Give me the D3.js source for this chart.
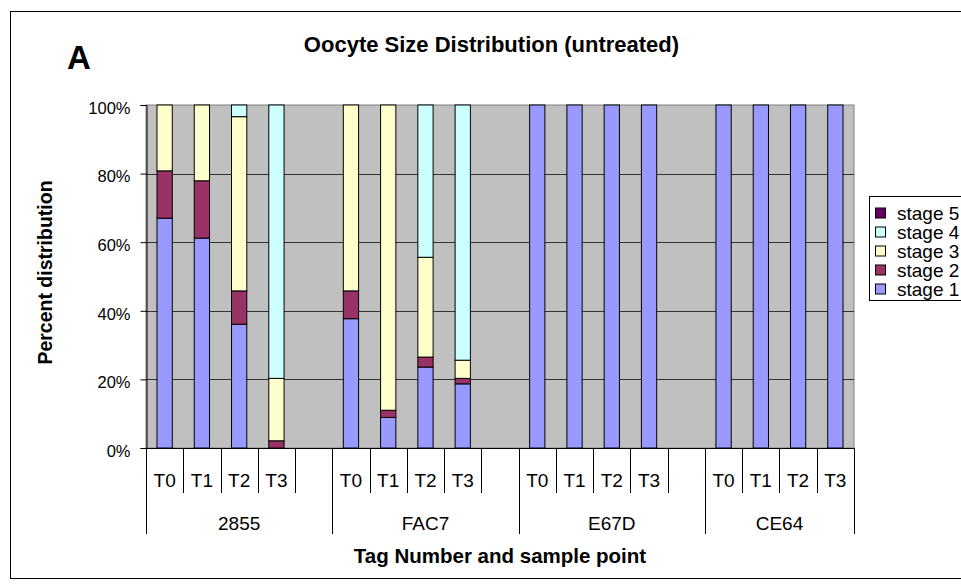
<!DOCTYPE html>
<html>
<head>
<meta charset="utf-8">
<script src="https://cdn.jsdelivr.net/npm/d3@7"></script>
<style>
  body { margin: 0; background: #fff; }
  svg { display: block; font-family: "Liberation Sans", Arial, sans-serif; }
</style>
</head>
<body>
<svg id="chart" width="961" height="585"></svg>
<script>
// data (percent of oocytes per stage)
const groups = ['2855', 'FAC7', 'E67D', 'CE64'];
const samples = ['T0', 'T1', 'T2', 'T3'];
const stages = ['stage 1', 'stage 2', 'stage 3', 'stage 4', 'stage 5'];
const stageColors = ['#9999FF', '#993366', '#FFFFCC', '#CCFFFF', '#660066'];

// one entry per group/sample, in order 2855 T0..T3, FAC7 T0..T3, E67D T0..T3, CE64 T0..T3
const stage1 = [67.0, 61.2, 36.1, 0, 37.7, 8.9, 23.6, 18.7, 100, 100, 100, 100, 100, 100, 100, 100];
const stage2 = [13.8, 16.7, 9.7, 2.1, 8.1, 2.1, 2.9, 1.6, 0, 0, 0, 0, 0, 0, 0, 0];
const stage3 = [19.2, 22.1, 50.8, 18.2, 54.2, 89.0, 29.1, 5.3, 0, 0, 0, 0, 0, 0, 0, 0];
const stage4 = [0, 0, 3.4, 79.7, 0, 0, 44.4, 74.4, 0, 0, 0, 0, 0, 0, 0, 0];
const stage5 = [0, 0, 0, 0, 0, 0, 0, 0, 0, 0, 0, 0, 0, 0, 0, 0];

const yTicks = [0, 0.2, 0.4, 0.6, 0.8, 1];

//#region Build rows (an empty slot follows each group except the last)
const series = [stage1, stage2, stage3, stage4, stage5];
const rows = [];
groups.forEach((g, gi) => {
    samples.forEach((s, si) => {
        const i = gi * samples.length + si;
        const row = { key: g + '|' + s, group: g, sample: s };
        stages.forEach((st, k) => row[st] = series[k][i] / 100);
        rows.push(row);
    });
    if (gi < groups.length - 1) {
        const row = { key: g + '|', group: g, sample: '' };
        stages.forEach(st => row[st] = 0);
        rows.push(row);
    }
});
//#endregion

const svg = d3.select('#chart');
const plot = { left: 146, right: 854, top: 105, bottom: 448 };

// chart area border
svg.append('rect')
    .attr('x', 10.5).attr('y', 11.5)
    .attr('width', 980).attr('height', 567)
    .attr('fill', '#fff')
    .attr('stroke', '#000');

const padInner = 0.59;
const x = d3.scaleBand()
    .domain(rows.map(d => d.key))
    .range([plot.left, plot.right])
    .paddingInner(padInner)
    .paddingOuter(padInner / 2);

const y = d3.scaleLinear()
    .domain([0, 1])
    .range([plot.bottom, plot.top]);

// plot background
svg.append('rect')
    .attr('x', plot.left).attr('y', plot.top)
    .attr('width', plot.right - plot.left)
    .attr('height', plot.bottom - plot.top)
    .attr('fill', '#C0C0C0')
    .attr('stroke', '#808080');

// gridlines
svg.append('g')
    .selectAll('line')
    .data(yTicks.filter(t => t > 0 && t < 1))
    .join('line')
    .attr('x1', plot.left).attr('x2', plot.right)
    .attr('y1', d => Math.round(y(d)) + 0.5)
    .attr('y2', d => Math.round(y(d)) + 0.5)
    .attr('stroke', '#333');

// stacked bars
const stacked = d3.stack().keys(stages)(rows);
svg.append('g')
    .selectAll('g')
    .data(stacked)
    .join('g')
    .attr('fill', (d, i) => stageColors[i])
    .selectAll('rect')
    .data(d => d.filter(p => p[1] - p[0] > 0))
    .join('rect')
    .attr('x', p => x(p.data.key))
    .attr('width', x.bandwidth())
    .attr('y', p => y(p[1]))
    .attr('height', p => y(p[0]) - y(p[1]))
    .attr('stroke', '#000')
    .attr('stroke-width', 1);

// y axis
const yAxis = svg.append('g')
    .attr('transform', `translate(${plot.left + 0.5},0)`)
    .call(d3.axisLeft(y)
        .tickValues(yTicks)
        .tickFormat(d3.format('.0%'))
        .tickSize(6)
        .tickPadding(10));
yAxis.select('.domain').attr('stroke', '#000');
yAxis.selectAll('.tick line').attr('stroke', '#000');
yAxis.selectAll('.tick text')
    .attr('font-size', 16.5)
    .attr('font-family', '"Liberation Sans", Arial, sans-serif')
    .attr('fill', '#000')
    .attr('dy', '0.5em');

//#region Two-level category axis
const step = x.step();
const catLeft = key => x(key) + x.bandwidth() / 2 - step / 2;
const tier1 = 493;
const tier2 = 534;
const xAxis = svg.append('g');

xAxis.append('line')
    .attr('x1', plot.left).attr('x2', plot.right)
    .attr('y1', plot.bottom + 0.5).attr('y2', plot.bottom + 0.5)
    .attr('stroke', '#000');

// separators between sample points
xAxis.selectAll('line.sep')
    .data(rows.filter((d, i) => i > 0))
    .join('line')
    .attr('class', 'sep')
    .attr('x1', d => Math.round(catLeft(d.key)) + 0.5)
    .attr('x2', d => Math.round(catLeft(d.key)) + 0.5)
    .attr('y1', plot.bottom)
    .attr('y2', d => (d.sample === 'T0' ? tier2 : tier1))
    .attr('stroke', '#000');

// outer edges run through both tiers
xAxis.selectAll('line.edge')
    .data([plot.left, plot.right])
    .join('line')
    .attr('class', 'edge')
    .attr('x1', d => d + 0.5).attr('x2', d => d + 0.5)
    .attr('y1', plot.bottom).attr('y2', tier2)
    .attr('stroke', '#000');

xAxis.selectAll('text.sample')
    .data(rows.filter(d => d.sample !== ''))
    .join('text')
    .attr('class', 'sample')
    .attr('x', d => x(d.key) + x.bandwidth() / 2)
    .attr('y', 486.5)
    .attr('text-anchor', 'middle')
    .attr('font-size', 19)
    .text(d => d.sample);

xAxis.selectAll('text.group')
    .data(groups)
    .join('text')
    .attr('class', 'group')
    .attr('x', g => {
        const keys = rows.filter(d => d.group === g).map(d => d.key);
        const l = catLeft(keys[0]);
        const r = catLeft(keys[keys.length - 1]) + step;
        return (l + r) / 2;
    })
    .attr('y', 530)
    .attr('text-anchor', 'middle')
    .attr('font-size', 19)
    .text(g => g);
//#endregion

// titles
svg.append('text')
    .attr('x', 491.5).attr('y', 51.5)
    .attr('text-anchor', 'middle')
    .attr('font-size', 22)
    .attr('font-weight', 'bold')
    .text('Oocyte Size Distribution (untreated)');

svg.append('text')
    .attr('x', 67).attr('y', 69)
    .attr('font-size', 33)
    .attr('font-weight', 'bold')
    .text('A');

svg.append('text')
    .attr('x', (plot.left + plot.right) / 2).attr('y', 563)
    .attr('text-anchor', 'middle')
    .attr('font-size', 20.5)
    .attr('font-weight', 'bold')
    .text('Tag Number and sample point');

svg.append('text')
    .attr('transform', 'translate(52,272.5) rotate(-90)')
    .attr('text-anchor', 'middle')
    .attr('font-size', 19.5)
    .attr('font-weight', 'bold')
    .text('Percent distribution');

//#region Legend (top entry is stage 5)
const legend = svg.append('g').attr('transform', 'translate(869.5,196.5)');
legend.append('rect')
    .attr('width', 120).attr('height', 104)
    .attr('fill', '#fff')
    .attr('stroke', '#000');

const legendItems = legend.selectAll('g.item')
    .data(stages.map((s, i) => ({ name: s, color: stageColors[i] })).reverse())
    .join('g')
    .attr('class', 'item')
    .attr('transform', (d, i) => `translate(0,${16.5 + i * 19})`);

legendItems.append('rect')
    .attr('x', 6).attr('y', -5)
    .attr('width', 10).attr('height', 10)
    .attr('fill', d => d.color)
    .attr('stroke', '#000');

legendItems.append('text')
    .attr('x', 27.5)
    .attr('y', 6.5)
    .attr('font-size', 19)
    .text(d => d.name);
//#endregion
</script>
</body>
</html>
